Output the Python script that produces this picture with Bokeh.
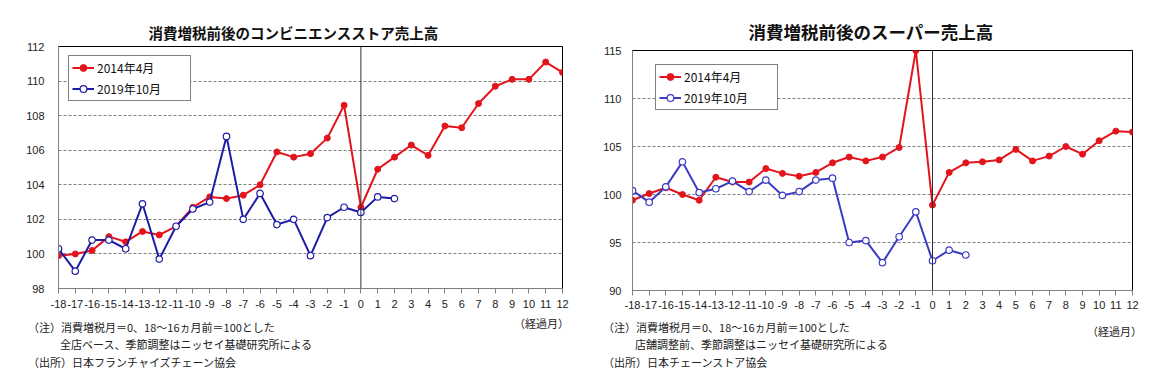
from bokeh.plotting import figure
from bokeh.layouts import row, column
from bokeh.models import Range1d, FixedTicker, Span, Legend, LegendItem, Div
from bokeh.embed import file_html
from bokeh.resources import INLINE

# ---- data ----
months = list(range(-18, 13))          # elapsed months (tick labels)
months_2019 = list(range(-18, 3))

cvs_2014 = [99.9, 100.0, 100.2, 101.0, 100.7, 101.3, 101.1, 101.6, 102.7, 103.3,
            103.2, 103.4, 104.0, 105.9, 105.6, 105.8, 106.7, 108.6,
            102.7, 104.9, 105.6, 106.3, 105.7, 107.4, 107.3, 108.7, 109.7, 110.1,
            110.1, 111.1, 110.5]
cvs_2019 = [100.3, 99.0, 100.8, 100.8, 100.3, 102.9, 99.7, 101.6, 102.6, 103.0,
            106.8, 102.0, 103.5, 101.7, 102.0, 99.9, 102.1, 102.7, 102.4, 103.3, 103.2]

sm_2014 = [99.4, 100.1, 100.7, 100.0, 99.4, 101.8, 101.3, 101.3, 102.7, 102.2,
           101.9, 102.3, 103.3, 103.9, 103.5, 103.9, 104.9, 115.0,
           98.9, 102.3, 103.3, 103.4, 103.6, 104.7, 103.5, 104.0, 105.0, 104.2,
           105.6, 106.6, 106.5]
sm_2019 = [100.4, 99.2, 100.8, 103.4, 100.2, 100.6, 101.4, 100.3, 101.5, 99.9,
           100.3, 101.5, 101.7, 95.0, 95.2, 92.9, 95.6, 98.2, 93.1, 94.2, 93.7]

cvs_yticks = [98, 100, 102, 104, 106, 108, 110, 112]
sm_yticks = [90, 95, 100, 105, 110, 115]

label_2014 = "2014年4月"
label_2019 = "2019年10月"

cvs_title = "消費増税前後のコンビニエンスストア売上高"
sm_title = "消費増税前後のスーパー売上高"
note1 = "（注）消費増税月＝0、18～16ヵ月前＝100とした"
cvs_note2 = "全店ベース、季節調整はニッセイ基礎研究所による"
sm_note2 = "店舗調整前、季節調整はニッセイ基礎研究所による"
cvs_src = "（出所）日本フランチャイズチェーン協会"
sm_src = "（出所）日本チェーンストア協会"
xunit = "（経過月）"

JP = "Noto Sans CJK JP"
NUM = "Liberation Sans"
RED = "#e3141b"


def make_chart(y2014, y2019, yticks, ymin, ymax, title, title_size, title_off,
               blue, geom):
    (bl, br, bt, bb, fw, fh, lgx, lgy, xstand, ystand, tstand) = geom
    p = figure(frame_width=fw, frame_height=fh, min_border_left=bl,
               min_border_right=br, min_border_top=bt, min_border_bottom=bb,
               output_backend="svg", toolbar_location=None,
               x_range=Range1d(-18, 12), y_range=Range1d(ymin, ymax))
    p.title.text = title
    p.title.align = "left"
    p.title.offset = title_off
    p.title.text_font = JP
    p.title.text_font_size = title_size
    p.title.text_font_style = "bold"
    p.title.text_color = "#111111"
    p.title.standoff = tstand

    p.outline_line_color = "black"
    p.outline_line_width = 1
    p.background_fill_color = "white"
    p.border_fill_color = "white"
    p.xgrid.visible = False
    p.ygrid.ticker = FixedTicker(ticks=yticks)
    p.ygrid.grid_line_color = "#7f7f7f"
    p.ygrid.grid_line_dash = "3 2"
    p.ygrid.grid_line_width = 1

    p.xaxis.ticker = FixedTicker(ticks=months)
    p.xaxis.major_label_overrides = {m: str(m) for m in months}
    p.xaxis.axis_line_color = "#808080"
    p.xaxis.major_tick_line_color = "#808080"
    p.xaxis.major_tick_out = 5
    p.xaxis.major_tick_in = 0
    p.xaxis.minor_tick_line_color = None
    p.xaxis.major_label_text_font = NUM
    p.xaxis.major_label_text_font_size = "11px"
    p.xaxis.major_label_text_color = "#222222"
    p.xaxis.major_label_standoff = xstand

    p.yaxis.ticker = FixedTicker(ticks=yticks)
    p.yaxis.axis_line_color = "#808080"
    p.yaxis.major_tick_line_color = None
    p.yaxis.minor_tick_line_color = None
    p.yaxis.major_tick_out = 0
    p.yaxis.major_tick_in = 0
    p.yaxis.major_label_text_font = NUM
    p.yaxis.major_label_text_font_size = "11px"
    p.yaxis.major_label_text_color = "#222222"
    p.yaxis.major_label_standoff = ystand

    p.add_layout(Span(location=0, dimension="height", line_color="#303030",
                      line_width=1))

    r_line = p.line(months, y2014, line_color=RED, line_width=2)
    r_pts = p.scatter(months, y2014, size=6, marker="circle", fill_color=RED,
                      line_color=RED)
    b_line = p.line(months_2019, y2019, line_color=blue, line_width=2)
    b_pts = p.scatter(months_2019, y2019, size=6.5, marker="circle",
                      fill_color="white", line_color=blue, line_width=1.2)

    legend = Legend(items=[LegendItem(label=label_2014, renderers=[r_line, r_pts]),
                           LegendItem(label=label_2019, renderers=[b_line, b_pts])],
                    location=(lgx, lgy))
    legend.border_line_color = "black"
    legend.border_line_width = 1.5
    legend.background_fill_color = "white"
    legend.background_fill_alpha = 1
    legend.padding = 3
    legend.spacing = 4
    legend.margin = 0
    legend.glyph_width = 22
    legend.glyph_height = 17
    legend.label_height = 17
    legend.label_standoff = 3
    legend.label_width = 90
    legend.label_text_font = JP
    legend.label_text_font_size = "12px"
    legend.label_text_color = "#111111"
    p.add_layout(legend, "center")
    return p


def make_notes(width, height, note2, src, pos):
    (nx, n2x, t1, t2, t3, ur, ut) = pos
    span = ("position:absolute;white-space:nowrap;line-height:14px;"
            "left:{x}px;top:{t}px;")
    html = (
        f'<div style="position:relative;width:{width}px;height:{height}px;'
        f"font-family:'{JP}';font-size:11px;color:#222222;\">"
        f'<span style="{span.format(x=nx, t=t1)}">{note1}</span>'
        f'<span style="{span.format(x=n2x, t=t2)}">{note2}</span>'
        f'<span style="{span.format(x=nx, t=t3)}">{src}</span>'
        f'<span style="position:absolute;white-space:nowrap;line-height:14px;'
        f'right:{ur}px;top:{ut}px;">{xunit}</span>'
        "</div>"
    )
    return Div(text=html, width=width, height=height, margin=0)


left = make_chart(cvs_2014, cvs_2019, cvs_yticks, 98, 112, cvs_title, "14.5px", 90,
                  "#1c1ca6", (58, 23, 46, 27, 504, 242, 10, 187, 6, 14, 8))
right = make_chart(sm_2014, sm_2019, sm_yticks, 90, 115, sm_title, "17.5px", 116,
                   "#3b3bc6", (47, 31, 50, 25, 500, 240, 23, 180, 5, 11, 13))

left_notes = make_notes(585, 72, cvs_note2, cvs_src, (28, 60, 5, 22, 40, 16, 1))
right_notes = make_notes(578, 72, sm_note2, sm_src, (18, 50, 5, 22, 40, 21, 9))

layout = row(column(left, left_notes), column(right, right_notes))
open("out.html", "w").write(file_html(layout, INLINE))
